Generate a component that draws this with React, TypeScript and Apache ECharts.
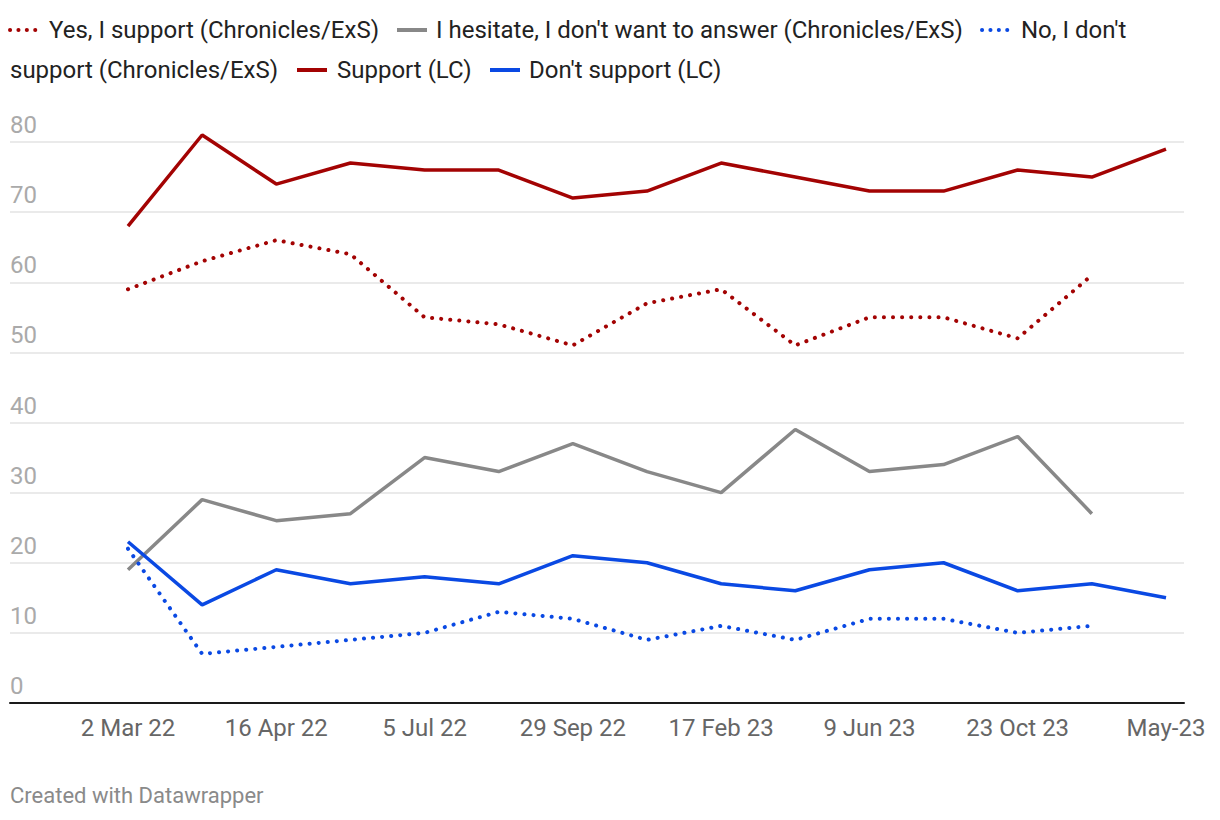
import React, { useEffect, useRef } from "react";
import * as echarts from "echarts";

const categories = [
  "2 Mar 22", "20 Mar 22", "16 Apr 22", "30 May 22", "5 Jul 22", "15 Aug 22",
  "29 Sep 22", "15 Dec 22", "17 Feb 23", "15 Apr 23", "9 Jun 23", "15 Aug 23",
  "23 Oct 23", "Dec 23", "May-23",
];

const yesSupport = [59, 63, 66, 64, 55, 54, 51, 57, 59, 51, 55, 55, 52, 61, null];
const hesitate = [19, 29, 26, 27, 35, 33, 37, 33, 30, 39, 33, 34, 38, 27, null];
const noSupport = [22, 7, 8, 9, 10, 13, 12, 9, 11, 9, 12, 12, 10, 11, null];
const supportLC = [68, 81, 74, 77, 76, 76, 72, 73, 77, 75, 73, 73, 76, 75, 79];
const dontSupportLC = [23, 14, 19, 17, 18, 17, 21, 20, 17, 16, 19, 20, 16, 17, 15];

const yTicks = [0, 10, 20, 30, 40, 50, 60, 70, 80];

const RED = "#a30303";
const BLUE = "#0a49e3";
const GRAY = "#888888";
const FONT = "Roboto";
const FS = 24;

export default function App() {
  const ref = useRef<HTMLDivElement>(null);
  useEffect(() => {
    document.body.style.margin = "0";
    const chart = echarts.init(ref.current!, null, { renderer: "svg" });
    const dotted = { type: [0.1, 9] as any, cap: "round" as const, width: 4 };
    const legendText = (x: number, y: number, text: string) => ({
      type: "text",
      x,
      y,
      style: { text, fill: "#222", font: `${FS}px ${FONT}`, verticalAlign: "middle", align: "left" },
    });
    const legendLine = (x: number, y: number, color: string, dot: boolean) => ({
      type: "line",
      shape: { x1: x, y1: y, x2: x + 30, y2: y },
      style: dot
        ? { stroke: color, lineWidth: 4, lineDash: [0.1, 8.3], lineCap: "round" }
        : { stroke: color, lineWidth: 4, lineCap: "butt" },
    });
    const mk = (name: string, data: (number | null)[], color: string, dot: boolean) => ({
      name,
      type: "line",
      xAxisIndex: 1,
      yAxisIndex: 1,
      data,
      symbol: "none",
      clip: false,
      lineStyle: dot ? { color, ...dotted } : { color, width: 3.5 },
    });
    chart.setOption({
      animation: false,
      textStyle: { fontFamily: FONT },
      grid: [
        { left: 10, right: 36, top: 142, bottom: 117 },
        { left: 128, right: 54, top: 142, bottom: 117 },
      ],
      xAxis: [
        {
          gridIndex: 0,
          type: "value",
          min: 0,
          max: 1,
          axisLine: { show: true, onZero: false, lineStyle: { color: "#1a1a1a", width: 2 } },
          axisTick: { show: false },
          axisLabel: { show: false },
          splitLine: { show: false },
        },
        {
          gridIndex: 1,
          type: "category",
          data: categories,
          boundaryGap: false,
          axisLine: { show: false },
          axisTick: { show: false },
          splitLine: { show: false },
          axisLabel: {
            interval: 1,
            color: "#666",
            fontSize: FS,
            fontFamily: FONT,
            margin: 13,
            showMaxLabel: true,
          },
        },
      ],
      yAxis: [
        {
          gridIndex: 0,
          type: "value",
          min: yTicks[0],
          max: yTicks[yTicks.length - 1],
          interval: 10,
          axisLine: { show: false },
          axisTick: { show: false },
          splitLine: { show: true, lineStyle: { color: "#e3e3e3", width: 1.5 } },
          axisLabel: {
            inside: true,
            margin: 0,
            color: "#aaa",
            fontSize: FS,
            fontFamily: FONT,
            verticalAlign: "bottom",
            align: "left",
            padding: [0, 0, 5, 0],
          },
        },
        {
          gridIndex: 1,
          type: "value",
          min: yTicks[0],
          max: yTicks[yTicks.length - 1],
          show: false,
        },
      ],
      series: [
        mk("I hesitate, I don't want to answer (Chronicles/ExS)", hesitate, GRAY, false),
        mk("Yes, I support (Chronicles/ExS)", yesSupport, RED, true),
        mk("No, I don't support (Chronicles/ExS)", noSupport, BLUE, true),
        mk("Support (LC)", supportLC, RED, false),
        mk("Don't support (LC)", dontSupportLC, BLUE, false),
      ],
      graphic: [
        legendLine(10, 30, RED, true),
        legendText(49, 30, "Yes, I support (Chronicles/ExS)"),
        legendLine(397, 30, GRAY, false),
        legendText(436, 30, "I hesitate, I don't want to answer (Chronicles/ExS)"),
        legendLine(982, 30, BLUE, true),
        legendText(1021, 30, "No, I don't"),
        legendText(10, 70, "support (Chronicles/ExS)"),
        legendLine(297, 70, RED, false),
        legendText(337, 70, "Support (LC)"),
        legendLine(490, 70, BLUE, false),
        legendText(529, 70, "Don't support (LC)"),
        {
          type: "text",
          x: 10,
          y: 795,
          style: {
            text: "Created with Datawrapper",
            fill: "#8a8a8a",
            font: `22px ${FONT}`,
            verticalAlign: "middle",
            align: "left",
          },
        },
      ],
    });
    return () => chart.dispose();
  }, []);
  return <div ref={ref} style={{ width: 1220, height: 820 }} />;
}
